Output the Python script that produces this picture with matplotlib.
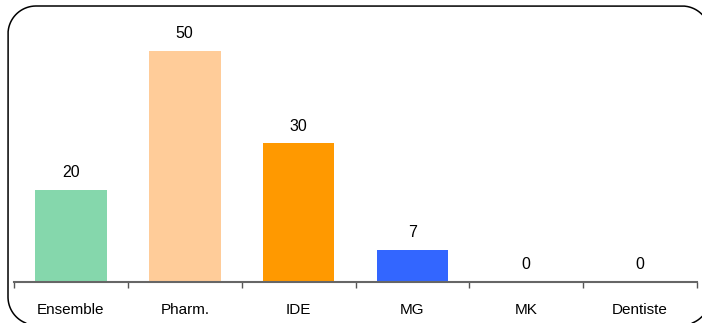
import numpy as np
import matplotlib.pyplot as plt
from matplotlib.lines import Line2D
from matplotlib.transforms import IdentityTransform

categories = ["Ensemble", "Pharm.", "IDE", "MG", "MK", "Dentiste"]
values = [20, 50, 30, 7, 0, 0]
colors = ["#85D7AC", "#FFCC99", "#FF9900", "#3366FF", "#FFFFFF", "#FFFFFF"]

plt.rcParams['font.family'] = ['Liberation Sans', 'DejaVu Sans']

fig = plt.figure(figsize=(7.02, 3.23), dpi=100)
W, H = 702, 323


def rounded_outline(x0, x1, top, bot, r, n=40):
    # outline of a rounded rectangle in pixels, y measured from the top
    t = np.linspace(0, np.pi / 2, n)
    pts = []
    # bottom-left, top-left, top-right, bottom-right corners
    for cx, cy, a0 in [(x0 + r, bot - r, np.pi / 2), (x0 + r, top + r, np.pi),
                       (x1 - r, top + r, 1.5 * np.pi), (x1 - r, bot - r, 0)]:
        a = a0 + t
        pts.append(np.c_[cx + r * np.cos(a), cy + r * np.sin(a)])
    pts.append(pts[0][:1])
    p = np.vstack(pts)
    # fill in straight runs so the off-canvas cut is clean
    dense = []
    for a, b in zip(p[:-1], p[1:]):
        dense.append(np.linspace(a, b, 30, endpoint=False))
    p = np.vstack(dense)
    x, y = p[:, 0], H - p[:, 1]
    out = (x < 0) | (x > W) | (y < 0) | (y > H)
    x[out] = np.nan
    y[out] = np.nan
    return x, y


fx, fy = rounded_outline(8, 710, 6, 325, 28)
fig.add_artist(Line2D(fx, fy, transform=IdentityTransform(),
                      color="black", linewidth=1.1))

ax = fig.add_axes([14 / W, 1 - 282 / H, (697 - 14) / W, (282 - 23) / H])
x = range(len(categories))
bars = ax.bar(x, values, width=0.63, color=colors)
ax.set_xlim(-0.5, len(categories) - 0.5)
ax.set_ylim(0, 56)

for b, v in zip(bars, values):
    ax.annotate(str(v), (b.get_x() + b.get_width() / 2, v),
                xytext=(0, 7), textcoords="offset points",
                ha="center", va="bottom", fontsize=11.5)

ax.set_xticks([i - 0.5 for i in range(len(categories) + 1)])
ax.set_xticklabels([])
ax.set_xticks(list(x), minor=True)
ax.set_xticklabels(categories, minor=True, fontsize=11)
ax.tick_params(axis="x", which="major", direction="out", length=4.5,
               width=1, color="#555555")
ax.tick_params(axis="x", which="minor", length=0, pad=15)
ax.set_yticks([])
for s in ["top", "right", "left"]:
    ax.spines[s].set_visible(False)
ax.spines["bottom"].set_color("#666666")
ax.spines["bottom"].set_linewidth(1.5)

fig.savefig("out.png", dpi=100)
